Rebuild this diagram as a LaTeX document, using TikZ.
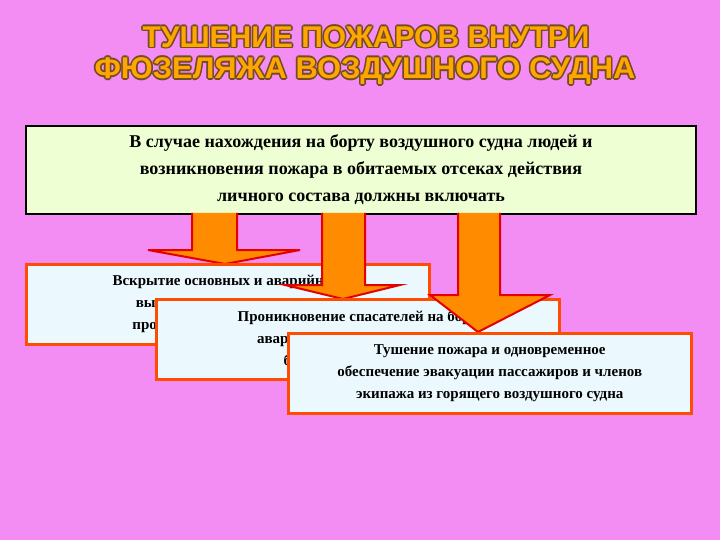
\documentclass[tikz,border=0pt]{standalone}
\usepackage{fontspec}
\setmainfont{Liberation Serif}
\newfontfamily\titlefont{Liberation Sans}
\begin{document}
\begin{tikzpicture}[x=1pt,y=-1pt,
  bx/.style={draw=orange!60!red,line width=2.5pt,fill=cyan!8,minimum width=403pt,minimum height=80pt,anchor=north west,inner sep=0pt,align=center,font=\bfseries\fontsize{15}{22}\selectfont},
  arr/.style={draw=red!90!black,line width=2pt,fill=orange!90!yellow,line join=miter}]
\definecolor{bg}{RGB}{243,140,243}
\fill[bg] (0,0) rectangle (720,540);
\useasboundingbox (0,0) rectangle (720,540);
\newcommand\ttl[3]{%
 \foreach \dx/\dy in {-1.6/0,1.6/0,0/-1.6,0/1.6,-1.2/-1.2,1.2/1.2,-1.2/1.2,1.2/-1.2}
  {\node[text=brown!60!black,font=\titlefont\bfseries\fontsize{30}{30}\selectfont] at ([shift={(\dx,\dy)}]#1) {\scalebox{#3}[1]{#2}};}
 \node[text=orange!70!yellow,font=\titlefont\bfseries\fontsize{30}{30}\selectfont] at (#1) {\scalebox{#3}[1]{#2}};}
\coordinate (t1) at (366,37);
\coordinate (t2) at (365,71);
\ttl{t1}{ТУШЕНИЕ ПОЖАРОВ ВНУТРИ}{1.0}
\ttl{t2}{ФЮЗЕЛЯЖА ВОЗДУШНОГО СУДНА}{1.03}
\node[draw=black,line width=2pt,fill=green!8!white!90!yellow,minimum width=670pt,minimum height=88pt,anchor=north west,align=center,font=\bfseries\fontsize{18}{27}\selectfont] (top) at (25,125)
 {В случае нахождения на борту воздушного судна людей и\\возникновения пожара в обитаемых отсеках действия\\личного состава должны включать};
\draw[arr] (192,213) -- (192,250) -- (148,250) -- (225,264) -- (300,250) -- (237,250) -- (237,213);
\node[bx] (b1) at (25,263) {Вскрытие основных и аварийных\\выходов воздушного судна,\\прокладка рукавных линий};
\draw[arr] (322,213) -- (322,285) -- (285,285) -- (343,299) -- (400,285) -- (365,285) -- (365,213);
\node[bx] (b2) at (155,298) {Проникновение спасателей на борт\\аварийного судна и подача на\\борт рукавных линий};
\draw[arr] (458,213) -- (458,295) -- (430,295) -- (478,332) -- (550,295) -- (500,295) -- (500,213);
\node[bx] (b3) at (287,332) {Тушение пожара и одновременное\\обеспечение эвакуации пассажиров и членов\\экипажа из горящего воздушного судна};
\end{tikzpicture}
\end{document}
